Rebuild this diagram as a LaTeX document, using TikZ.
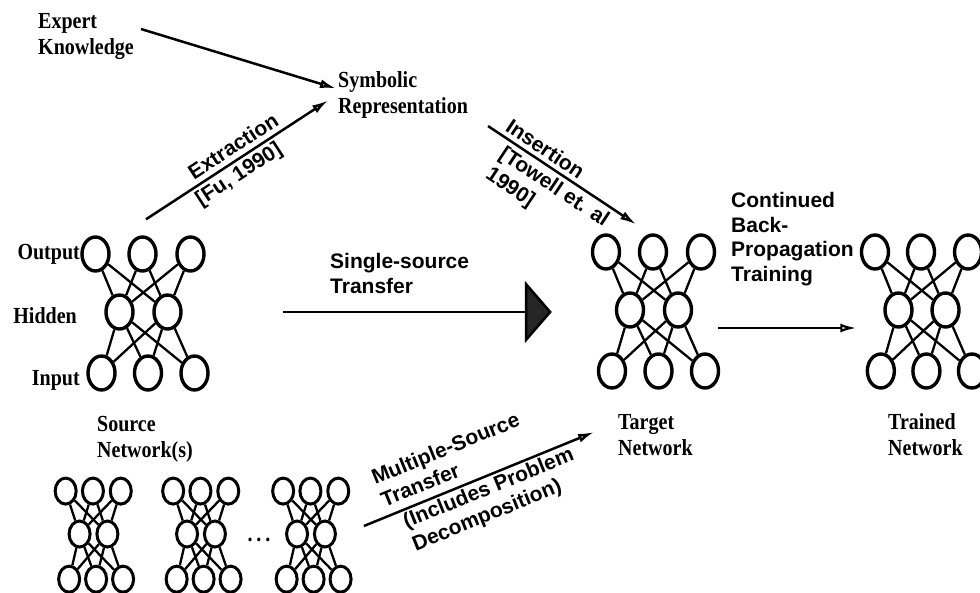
\documentclass[tikz,border=0pt]{standalone}
\usepackage{fontspec}
\setmainfont{Liberation Serif}
\newfontfamily\netserif{Liberation Serif}[FakeStretch=0.87]
\newfontfamily\netsans{Liberation Sans}
\usetikzlibrary{shapes.geometric,arrows.meta,calc}

\tikzset{
  neuron/.style={draw, ellipse, inner sep=0pt, minimum width=27pt, minimum height=34pt, line width=3.4pt},
  smallneuron/.style={draw, ellipse, inner sep=0pt, minimum width=21pt, minimum height=26pt, line width=3pt},
  link/.style={line width=2.3pt},
  seriflabel/.style={font=\netserif\bfseries\fontsize{23}{26}\selectfont, align=left, inner sep=0pt},
  sanslabel/.style={font=\netsans\bfseries\fontsize{21}{24.5}\selectfont, align=left, inner sep=0pt},
  flow/.style={line width=2.5pt, -{Latex[open,length=16pt,width=9pt]}},
  bigflow/.style={line width=2.5pt, -{Triangle[length=27pt,width=62pt,fill=black!85]}},
}

% Three-layer network: #1 name prefix, #2 centre of the hidden layer,
% #3/#4 horizontal/vertical spacing factors, #5 neuron style
\newcommand\mlpnet[5]{%
  \begin{scope}[shift={#2}, xscale=#3, yscale=#4]
    \node[#5] (#1o1) at (-48,-58) {};
    \node[#5] (#1o2) at (-1,-58) {};
    \node[#5] (#1o3) at (47,-58) {};
    \node[#5] (#1h1) at (-24,0) {};
    \node[#5] (#1h2) at (24,0) {};
    \node[#5] (#1i1) at (-42,61) {};
    \node[#5] (#1i2) at (4.5,61) {};
    \node[#5] (#1i3) at (51,61) {};
  \end{scope}
  \foreach \uu in {o1,o2,o3}{\foreach \vv in {h1,h2}{\draw[link] (#1\uu) -- (#1\vv);}}
  \foreach \uu in {h1,h2}{\foreach \vv in {i1,i2,i3}{\draw[link] (#1\uu) -- (#1\vv);}}
}

\begin{document}
\begin{tikzpicture}[x=1pt, y=-1pt]
\useasboundingbox (0,0) rectangle (980,592);

% networks
\mlpnet{src}{(143.5,312)}{1}{1}{neuron}
\mlpnet{tgt}{(654,310)}{1}{1}{neuron}
\mlpnet{trn}{(922,310)}{0.98}{1}{neuron}
\mlpnet{ma}{(93.5,534)}{0.58}{0.74}{smallneuron}
\mlpnet{mb}{(201,534)}{0.58}{0.74}{smallneuron}
\mlpnet{mc}{(311,534)}{0.58}{0.74}{smallneuron}
\node[seriflabel, anchor=base] (dots) at (259,541) {.\,.\,.};

% text labels (base anchor = baseline of the last line)
\node[seriflabel, anchor=base west] (expert) at (38,54) {Expert\\Knowledge};
\node[seriflabel, anchor=base west] (symb) at (338,113) {Symbolic\\Representation};
\node[seriflabel, anchor=base east] (lout) at (80,259) {Output};
\node[seriflabel, anchor=base east] (lhid) at (77,323) {Hidden};
\node[seriflabel, anchor=base east] (lin) at (80,385) {Input};
\node[seriflabel, anchor=base west] (srclbl) at (97,457) {Source\\Network(s)};
\node[seriflabel, anchor=base west] (tgtlbl) at (618,455) {Target\\Network};
\node[seriflabel, anchor=base west] (trnlbl) at (888,455) {Trained\\Network};
\node[sanslabel, anchor=base west] (sslbl) at (330,293) {Single-source\\Transfer};
\node[sanslabel, anchor=base west] (cbplbl) at (731,281) {Continued\\Back-\\Propagation\\Training};

% connectors
\draw[flow] ($(expert.east)+(7,-7)$) -- ($(symb.west)+(-2,-6)$);
\draw[flow] ($(srco2.north)+(3.5,-16)$) --
  node[sanslabel, sloped, pos=0.52, anchor=south, inner ysep=5pt] (extlbl) {Extraction}
  node[sanslabel, sloped, pos=0.47, anchor=north, inner ysep=3pt] (fulbl) {[Fu, 1990]}
  ($(symb.west)+(-10,6)$);
\draw[flow] ($(symb.south east)+(20,8)$) --
  node[sanslabel, sloped, pos=0.34, anchor=south, inner ysep=4pt] (inslbl) {Insertion}
  node[sanslabel, sloped, pos=0.5, anchor=north, inner ysep=4pt] (towlbl) {[Towell et. al\\1990]}
  ($(tgto2.north)+(-17,-9)$);
\draw[bigflow] ($(srch2.east)+(100,0)$) -- ($(tgth1.west)+(-63,2)$);
\draw[flow, line width=2.2pt] ($(tgth2.east)+(25,18)$) -- ($(trnh1.west)+(-27,18)$);
\draw[flow] ($(mch2.east)+(27,-8)$) --
  node[sanslabel, sloped, pos=0.1, anchor=south west, inner ysep=8pt] (mslbl) {Multiple-Source\\Transfer}
  node[sanslabel, sloped, pos=0.15, anchor=north west, inner ysep=2pt] (idlbl) {(Includes Problem\\Decomposition)}
  ($(tgtlbl.west)+(-24,-2.5)$);
\end{tikzpicture}
\end{document}
